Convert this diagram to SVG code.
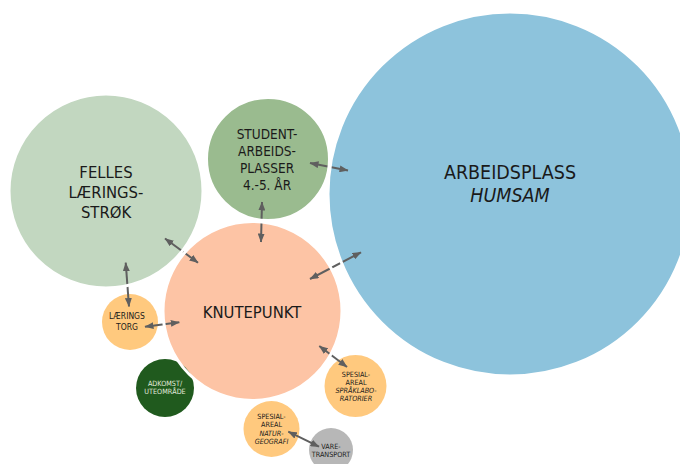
<svg xmlns="http://www.w3.org/2000/svg" width="680" height="464" viewBox="0 0 680 464">
  <defs>
    <marker id="ah" viewBox="0 0 9 7" refX="8.5" refY="3.5" markerWidth="9" markerHeight="7" markerUnits="userSpaceOnUse" orient="auto-start-reverse">
      <path d="M0,0 L9,3.5 L0,7 z" fill="#5f5f5f"/>
    </marker>
  </defs>
  <style>
    text { font-family: "DejaVu Sans Condensed", "DejaVu Sans", sans-serif; fill: #1a1a1a; text-anchor: middle; }
    .conn line { stroke: #5f5f5f; stroke-width: 2; marker-start: url(#ah); marker-end: url(#ah); }
    .gap circle { fill: none; stroke: #ffffff; stroke-width: 3; }
    .big { font-size: 19.5px; }
    .mid { font-size: 16.5px; }
    .stu { font-size: 13.5px; }
    .sm { font-size: 7.2px; }
    .it { font-style: italic; }
  </style>
  <rect width="680" height="464" fill="#ffffff"/>

  <g id="arbeidsplass">
    <circle cx="510" cy="194" r="182" fill="#8DC3DC"/>
    <text class="big" x="510" y="179">ARBEIDSPLASS</text>
    <text class="big it" x="510" y="202">HUMSAM</text>
  </g>
  <g id="felles">
    <circle cx="106" cy="191" r="97" fill="#C2D7C0"/>
    <text class="mid" x="106" y="178">FELLES</text>
    <text class="mid" x="106" y="198">LÆRINGS-</text>
    <text class="mid" x="106" y="218">STRØK</text>
  </g>
  <g id="student">
    <circle cx="268" cy="159" r="61.5" fill="#9ABB8F"/>
    <text class="stu" x="267" y="139">STUDENT-</text>
    <text class="stu" x="267" y="156">ARBEIDS-</text>
    <text class="stu" x="267" y="173">PLASSER</text>
    <text class="stu" x="267" y="190">4.-5. ÅR</text>
  </g>
  <g id="knutepunkt">
    <circle cx="252.5" cy="311" r="89.5" fill="#FDC4A5"/>
    <text class="mid" x="252" y="318">KNUTEPUNKT</text>
  </g>
  <g id="laeringstorg">
    <circle cx="130" cy="322" r="28" fill="#FFC97E"/>
    <text class="sm" x="127" y="319.3" style="font-size:8.5px">LÆRINGS</text>
    <text class="sm" x="127" y="330" style="font-size:8.5px">TORG</text>
  </g>
  <g id="adkomst">
    <circle cx="165" cy="388" r="29" fill="#205A1E"/>
    <text class="sm" x="165" y="386" style="fill:#E2EADF">ADKOMST/</text>
    <text class="sm" x="165" y="394.3" style="fill:#E2EADF">UTEOMRÅDE</text>
  </g>
  <g id="spesial-sprak">
    <circle cx="355.5" cy="386" r="31" fill="#FFC97E"/>
    <text class="sm" x="356" y="376.5">SPESIAL-</text>
    <text class="sm" x="356" y="384.8">AREAL</text>
    <text class="sm it" x="356" y="393.1">SPRÅKLABO-</text>
    <text class="sm it" x="356" y="401.4">RATORIER</text>
  </g>
  <g id="spesial-natur">
    <circle cx="271.5" cy="429" r="28" fill="#FFC97E"/>
    <text class="sm" x="271.5" y="419">SPESIAL-</text>
    <text class="sm" x="271.5" y="427">AREAL</text>
    <text class="sm it" x="271.5" y="436">NATUR-</text>
    <text class="sm it" x="271.5" y="444">GEOGRAFI</text>
  </g>
  <g id="varetransport">
    <circle cx="331" cy="450" r="22" fill="#B7B7B7"/>
    <text class="sm" x="331" y="448.7">VARE-</text>
    <text class="sm" x="331" y="456.7">TRANSPORT</text>
  </g>

  <g id="connectors" class="conn">
    <line x1="310" y1="163" x2="348" y2="170.5"/>
    <line x1="262" y1="202" x2="261" y2="242"/>
    <line x1="165" y1="238.5" x2="198" y2="262.7"/>
    <line x1="310" y1="279" x2="361" y2="252.3"/>
    <line x1="125.7" y1="262.7" x2="129" y2="306.5"/>
    <line x1="145" y1="326.7" x2="179.3" y2="322.3"/>
    <line x1="319.3" y1="346" x2="347" y2="367"/>
    <line x1="288.3" y1="431.7" x2="319" y2="446.7"/>
  </g>

  <g id="edge-gaps" class="gap">
    <circle cx="510" cy="194" r="182"/>
    <circle cx="106" cy="191" r="97"/>
    <circle cx="268" cy="159" r="61.5"/>
    <circle cx="252.5" cy="311" r="89.5"/>
  </g>
</svg>
